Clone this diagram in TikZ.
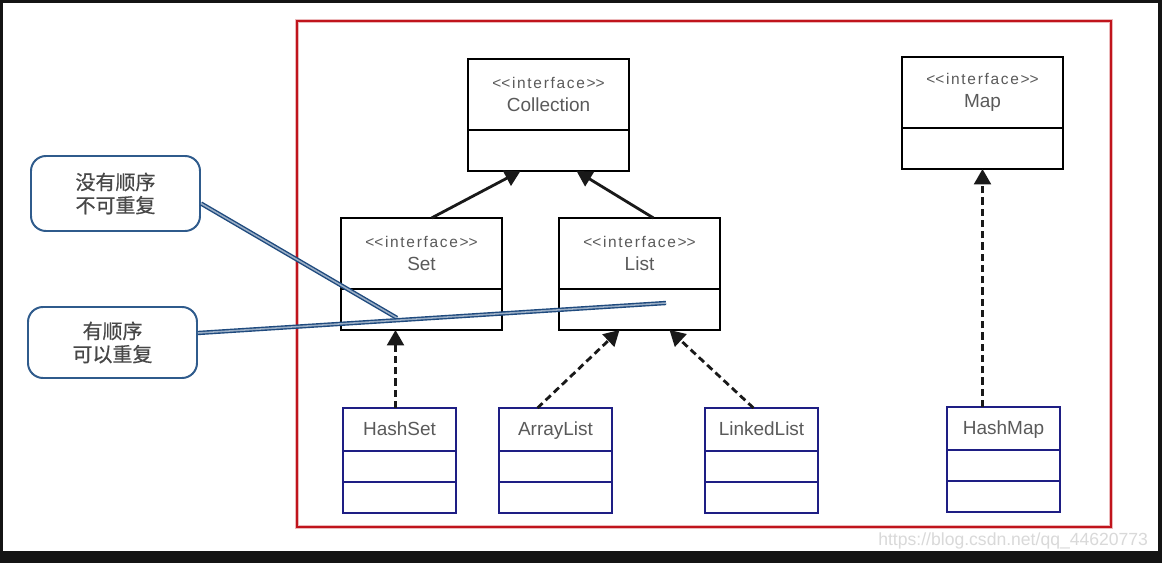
\documentclass[tikz,border=0pt]{standalone}
\usepackage{fontspec}
\setmainfont{Liberation Sans}
\newfontfamily\tagfont[LetterSpace=11]{Liberation Sans}
\newfontfamily\cjk[FakeBold=0.6]{Noto Sans CJK SC}
\usetikzlibrary{arrows.meta,positioning}
\definecolor{framered}{HTML}{C0141C}
\definecolor{navy}{HTML}{1E1E84}
\definecolor{noteblue}{HTML}{2F5B8C}
\definecolor{linkblue}{HTML}{1F4A7E}
\definecolor{txt}{HTML}{5A5A5A}
\newlength\px
\setlength\px{0.025cm}
\def\iface{{\tagfont\fontsize{11}{13}\selectfont <\kern0pt<interface>\kern0pt>}}

\tikzset{
  head/.style={draw=black, line width=1.8pt, fill=white, inner sep=0pt, outer sep=0pt,
    anchor=north west, minimum width=161\px, minimum height=71\px, align=center,
    text=txt, font=\fontsize{13.5}{16}\selectfont},
  body/.style={draw=black, line width=1.8pt, fill=white, inner sep=0pt, outer sep=0pt,
    minimum width=161\px, minimum height=41\px},
  cls/.style={draw=navy, line width=1.8pt, fill=white, inner sep=0pt, outer sep=0pt,
    anchor=north west, minimum width=113\px, minimum height=43\px,
    text height=10pt, text depth=2pt,
    text=txt, font=\fontsize{13.5}{16}\selectfont},
  part/.style={draw=navy, line width=1.8pt, fill=white, inner sep=0pt, outer sep=0pt,
    minimum width=113\px, minimum height=31\px},
  note/.style={draw=noteblue, line width=1.4pt, fill=white, rounded corners=15\px,
    minimum width=169\px, align=center, text=black!72,
    font=\cjk\fontsize{14.2}{16.5}\selectfont},
  gen/.style={draw=black!90, line width=2pt, -{Triangle[length=11pt,width=12pt]}},
  real/.style={gen, dash pattern=on 5pt off 3pt},
  link/.style={draw=linkblue, line width=1pt, double=linkblue!45, double distance=1.1pt}
}

\begin{document}
\begin{tikzpicture}[x=0.025cm, y=-0.025cm]
\useasboundingbox (0,0) rectangle (1162,563);
\fill[black!92] (0,0) rectangle (1162,563);
\fill[white] (3,3) rectangle (1158,551);

\draw[framered!30, line width=3pt] (297,21) rectangle (1111,527);
\draw[framered, line width=1.4pt] (297,21) rectangle (1111,527);

% interfaces
\node[head] (collH) at (468,59) {\iface\\Collection};
\node[body, below=0pt of collH] (collB) {};
\node[head] (mapH) at (902,57) {\iface\\Map};
\node[body, below=0pt of mapH] (mapB) {};
\node[head] (setH) at (341,218) {\iface\\Set};
\node[body, below=0pt of setH] (setB) {};
\node[head] (listH) at (559,218) {\iface\\List};
\node[body, below=0pt of listH] (listB) {};

% classes
\node[cls] (hsH) at (343,408) {HashSet};
\node[part, below=0pt of hsH] (hsA) {};
\node[part, below=0pt of hsA] (hsB) {};
\node[cls] (alH) at (499,408) {ArrayList};
\node[part, below=0pt of alH] (alA) {};
\node[part, below=0pt of alA] (alB) {};
\node[cls] (llH) at (705,408) {LinkedList};
\node[part, below=0pt of llH] (llA) {};
\node[part, below=0pt of llA] (llB) {};
\node[cls] (hmH) at (947,407) {HashMap};
\node[part, below=0pt of hmH] (hmA) {};
\node[part, below=0pt of hmA] (hmB) {};

\draw[gen] ([xshift=10\px]setH.north) -- ([xshift=-28\px]collB.south);
\draw[gen] ([xshift=14\px]listH.north) -- ([xshift=28\px]collB.south);
\draw[real] ([xshift=-4\px]hsH.north) -- ([xshift=-4\px]hsH.north |- setB.south);
\draw[real] ([xshift=-18\px]alH.north) -- ([xshift=-20\px]listB.south);
\draw[real] ([xshift=-8\px]llH.north) -- ([xshift=30\px]listB.south);
\draw[real] (mapB.south |- hmH.north) -- (mapB.south);

% notes
\node[note, minimum height=75\px] (noteA) at (115.5,193.5) {没有顺序\\不可重复};
\node[note, minimum height=71\px] (noteB) at (112.5,342.5) {有顺序\\可以重复};
\coordinate (inSet) at (397,318);
\coordinate (inList) at (666,303);
\draw[link] ([yshift=-10\px]noteA.east) -- (inSet);
\draw[link] ([yshift=9.5\px]noteB.east) -- (inList);

\node[anchor=south east, text=black!15, font=\fontsize{12.5}{12.5}\selectfont] (mark) at (1153,554) {https://blog.csdn.net/qq\_44620773};
\end{tikzpicture}
\end{document}
